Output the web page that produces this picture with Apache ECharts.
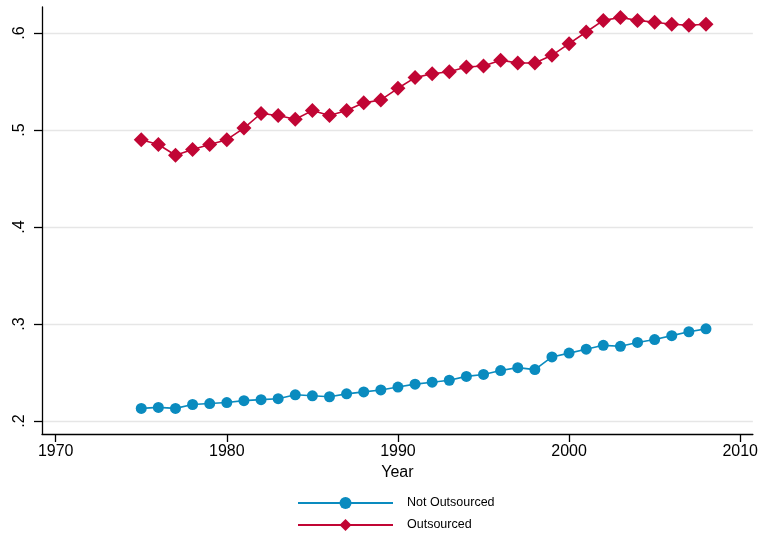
<!DOCTYPE html>
<html>
<head>
<meta charset="utf-8">
<script src="https://cdn.jsdelivr.net/npm/echarts@6/dist/echarts.min.js"></script>
<style>
  html, body { margin: 0; padding: 0; background: #fff; }
  #chart { width: 761px; height: 535px; }
</style>
</head>
<body>
<div id="chart"></div>
<script>
// data
const years = [1975, 1976, 1977, 1978, 1979, 1980, 1981, 1982, 1983, 1984, 1985, 1986,
  1987, 1988, 1989, 1990, 1991, 1992, 1993, 1994, 1995, 1996, 1997, 1998, 1999, 2000,
  2001, 2002, 2003, 2004, 2005, 2006, 2007, 2008];
const notOutsourced = [0.213, 0.214, 0.213, 0.217, 0.218, 0.219, 0.221, 0.222, 0.223, 0.227,
  0.226, 0.225, 0.228, 0.230, 0.232, 0.235, 0.238, 0.240, 0.242, 0.246, 0.248, 0.252,
  0.255, 0.253, 0.266, 0.270, 0.274, 0.278, 0.277, 0.281, 0.284, 0.288, 0.292, 0.295];
const outsourced = [0.490, 0.485, 0.474, 0.480, 0.485, 0.490, 0.502, 0.517, 0.515, 0.511,
  0.520, 0.515, 0.520, 0.528, 0.531, 0.543, 0.554, 0.558, 0.560, 0.565, 0.566, 0.572,
  0.569, 0.569, 0.577, 0.589, 0.601, 0.613, 0.616, 0.613, 0.611, 0.609, 0.608, 0.609];

const xTicks = [1970, 1980, 1990, 2000, 2010];
const yTicks = [0.2, 0.3, 0.4, 0.5, 0.6];
const yTickLabels = ['.2', '.3', '.4', '.5', '.6'];

const blue = '#0a8bbf';
const red = '#c10534';
const font = 'Liberation Sans, Arial, sans-serif';

var chart = echarts.init(document.getElementById('chart'));

chart.setOption({
  animation: false,
  grid: { left: 42, right: 8, top: 7, bottom: 101 },
  xAxis: {
    type: 'value',
    min: 1969.2,
    max: 2010.74,
    name: 'Year',
    nameLocation: 'middle',
    nameGap: 27,
    nameTextStyle: { fontFamily: font, fontSize: 16, color: '#000' },
    axisLine: { lineStyle: { color: '#000', width: 1.3 } },
    axisTick: { customValues: xTicks, length: 8, lineStyle: { color: '#000', width: 1.3 } },
    axisLabel: {
      customValues: xTicks, margin: 10,
      fontFamily: font, fontSize: 16, color: '#000',
      formatter: v => String(v)
    },
    splitLine: { show: false }
  },
  yAxis: {
    type: 'value',
    min: 0.1866,
    max: 0.6268,
    axisLine: { show: true, lineStyle: { color: '#000', width: 1.3 } },
    axisTick: { show: true, customValues: yTicks, length: 8, lineStyle: { color: '#000', width: 1.3 } },
    axisLabel: {
      customValues: yTicks,
      rotate: 90,
      margin: 14,
      fontFamily: font, fontSize: 16, color: '#000',
      formatter: function (v) {
        let i = yTicks.findIndex(t => Math.abs(t - v) < 1e-6);
        return i >= 0 ? yTickLabels[i] : '';
      }
    },
    splitLine: { show: true, lineStyle: { color: '#e6e6e6', width: 1.4 } }
  },
  legend: {
    orient: 'vertical',
    left: 297,
    top: 496,
    padding: 0,
    itemWidth: 95,
    itemHeight: 15,
    itemGap: 8,
    textStyle: { fontFamily: font, fontSize: 12.5, lineHeight: 14, color: '#000', padding: [0, 0, 0, 9] },
    data: ['Not Outsourced', 'Outsourced']
  },
  series: [
    {
      name: 'Not Outsourced',
      type: 'line',
      data: years.map((y, i) => [y, notOutsourced[i]]),
      symbol: 'circle',
      symbolSize: 11,
      color: blue,
      lineStyle: { color: blue, width: 1.6 },
      itemStyle: { color: blue }
    },
    {
      name: 'Outsourced',
      type: 'line',
      data: years.map((y, i) => [y, outsourced[i]]),
      symbol: 'diamond',
      symbolSize: 15,
      color: red,
      lineStyle: { color: red, width: 1.6 },
      itemStyle: { color: red }
    }
  ]
});
</script>
</body>
</html>
